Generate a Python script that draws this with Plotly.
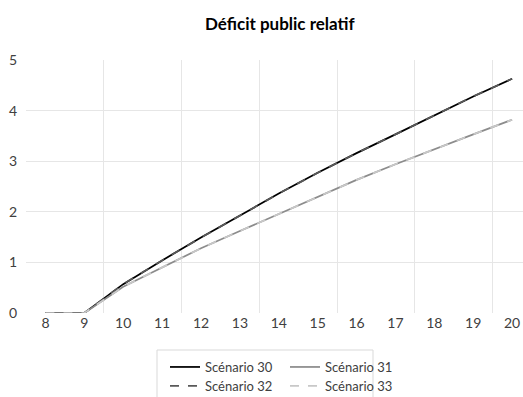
import plotly.graph_objects as go

# Years (category labels) and relative public deficit per scenario
annees = [8, 9, 10, 11, 12, 13, 14, 15, 16, 17, 18, 19, 20]
scenario_30 = [0, 0, 0.57, 1.04, 1.49, 1.93, 2.36, 2.77, 3.16, 3.53, 3.91, 4.28, 4.63]
scenario_31 = [0, 0, 0.52, 0.90, 1.28, 1.62, 1.96, 2.30, 2.63, 2.94, 3.24, 3.53, 3.82]
scenario_32 = [0, 0, 0.57, 1.04, 1.49, 1.93, 2.36, 2.77, 3.16, 3.53, 3.91, 4.28, 4.63]
scenario_33 = [0, 0, 0.52, 0.90, 1.28, 1.62, 1.96, 2.30, 2.63, 2.94, 3.24, 3.53, 3.82]

noms = ["Scénario 30", "Scénario 31", "Scénario 32", "Scénario 33"]
series = [scenario_30, scenario_31, scenario_32, scenario_33]
couleurs = ["#000000", "#8c8c8c", "#595959", "#c8c8c8"]
tirets = ["solid", "solid", "dash", "dash"]
legendes = ["legend", "legend", "legend2", "legend2"]

FONT = "Lato"

# plot area in pixels: left 26, right 523, top 60, bottom 313
L, R, T, B = 26, 523, 60, 313
def px_x(p):
    return (p - L) / (R - L)
def px_y(p):
    return (B - p) / (B - T)

fig = go.Figure()
for nom, y, c, d, lg in zip(noms, series, couleurs, tirets, legendes):
    fig.add_trace(go.Scatter(
        x=annees, y=y, name=nom, mode="lines", legend=lg,
        line=dict(color=c, width=1.75, dash=d),
    ))

leg_common = dict(
    orientation="h", xanchor="left", yanchor="top",
    bgcolor="rgba(0,0,0,0)", borderwidth=0,
    entrywidth=75, entrywidthmode="pixels",
    font=dict(family=FONT, size=13, color="#404040"),
    tracegroupgap=0,
)

fig.update_layout(
    width=523, height=397,
    margin=dict(l=L, r=523 - R, t=T, b=397 - B, autoexpand=False),
    paper_bgcolor="white", plot_bgcolor="white",
    font=dict(family=FONT, size=14, color="#404040"),
    title=dict(text="<b>Déficit public relatif</b>", x=0.535, xanchor="center",
               y=0.94, yanchor="middle",
               font=dict(family=FONT, size=17, color="#000000")),
    showlegend=True,
    legend=dict(x=px_x(165), y=px_y(352), **leg_common),
    legend2=dict(x=px_x(165), y=px_y(371), **leg_common),
    shapes=[dict(type="rect", xref="paper", yref="paper",
                 x0=px_x(157), x1=px_x(373), y0=px_y(400), y1=px_y(350),
                 line=dict(color="#d9d9d9", width=1), fillcolor="rgba(0,0,0,0)")],
)

fig.update_xaxes(
    range=[7.5, 20.28], tickmode="array", tickvals=annees,
    ticktext=[str(a) for a in annees],
    showgrid=False, zeroline=False, showline=False, ticks="",
    tickfont=dict(size=14, color="#404040"),
    minor=dict(tickmode="array", tickvals=[9.5, 11.5, 13.5, 15.5, 17.5, 19.5],
               showgrid=True, gridcolor="#e6e6e6", gridwidth=1, ticks=""),
)
fig.update_yaxes(
    range=[0, 5], tickmode="array", tickvals=[0, 1, 2, 3, 4, 5],
    showgrid=False, zeroline=False, showline=False, ticks="",
    ticklabelstandoff=8,
    tickfont=dict(size=14, color="#404040"),
    minor=dict(tickmode="array", tickvals=[1, 2, 3, 4],
               showgrid=True, gridcolor="#e6e6e6", gridwidth=1, ticks=""),
)

fig.write_html("out.html")
